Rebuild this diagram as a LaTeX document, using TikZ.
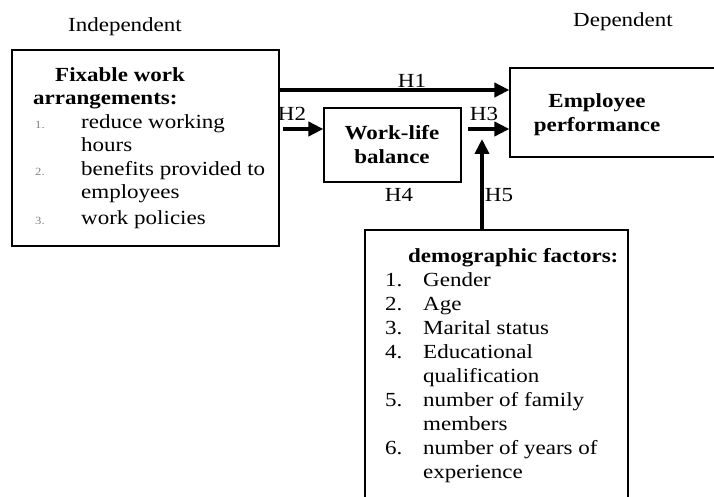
\documentclass[tikz,border=0pt]{standalone}
\usepackage{fontspec}
\setmainfont{Liberation Serif}[FakeStretch=1.15]
\usetikzlibrary{arrows.meta}

% small grey list numbers of the first box
\newcommand{\smallnum}[1]{\makebox[48pt][l]{\hspace{2pt}\fontsize{11}{11}\selectfont\color{gray}#1}}
\newcommand{\bignum}[1]{\makebox[38pt][l]{#1}}

\begin{document}
\begin{tikzpicture}[x=1pt,y=-1pt,
  box/.style={draw,line width=1.2pt,rectangle,inner sep=0pt},
  txt/.style={font=\fontsize{20}{23.5}\selectfont,inner sep=0pt,align=left},
  ctxt/.style={font=\fontsize{20}{24}\selectfont\bfseries,inner sep=0pt,align=center},
  hlabel/.style={font=\fontsize{20}{24}\selectfont,inner sep=0pt},
  arr/.style={line width=4.5pt,-{Triangle[length=15pt,width=14pt]}}]
\useasboundingbox (0,0) rectangle (714,497);
\clip (0,0) rectangle (714,497);

% column headings
\node[hlabel] (indep) at (125,27) {Independent};
\node[hlabel] (dep) at (623,22) {Dependent};

% boxes
\node[box,minimum width=267pt,minimum height=196pt] (fwa) at (145.5,148) {};
\node[box,minimum width=137pt,minimum height=74pt] (wlb) at (392.5,145) {};
\node[box,minimum width=260pt,minimum height=89pt] (emp) at (640,112.5) {};
\node[box,minimum width=263pt,minimum height=300pt] (demo) at (496.5,380) {};

% box contents
\node[txt,anchor=north west] (fwatext) at (33,67.3) {%
  \hspace*{22pt}\textbf{Fixable work}\\
  \textbf{arrangements:}\\
  \smallnum{1.}reduce working\\
  \hspace*{48pt}hours\\
  \smallnum{2.}benefits provided to\\
  \hspace*{48pt}employees\\[2pt]
  \smallnum{3.}work policies};

\node[ctxt] (wlbtext) at (392,145) {Work-life\\balance};
\node[ctxt] (emptext) at (597,115) {Employee\\performance};

\node[txt,anchor=north west,font=\fontsize{20}{24}\selectfont] (demotext) at (385,248.3) {%
  \hspace*{23pt}\textbf{demographic factors:}\\
  \bignum{1.}Gender\\
  \bignum{2.}Age\\
  \bignum{3.}Marital status\\
  \bignum{4.}Educational\\
  \hspace*{38pt}qualification\\
  \bignum{5.}number of family\\
  \hspace*{38pt}members\\
  \bignum{6.}number of years of\\
  \hspace*{38pt}experience};

% hypothesis arrows
\coordinate (h2start) at (283,129);
\coordinate (h3start) at (468,129);
\coordinate (h5end) at (482,139);

\draw[arr] (fwa.east |- 0,90) -- (emp.west |- 0,90);
\draw[arr] (h2start) -- (wlb.west |- h2start);
\draw[arr] (h3start) -- (emp.west |- h3start);
\draw[arr] (h5end |- demo.north) -- (h5end);

% hypothesis labels
\node[hlabel] (l1) at (412,81) {H1};
\node[hlabel] (l2) at (292,114) {H2};
\node[hlabel] (l3) at (484,114) {H3};
\node[hlabel] (l4) at (399,195) {H4};
\node[hlabel] (l5) at (499,195) {H5};
\end{tikzpicture}
\end{document}
